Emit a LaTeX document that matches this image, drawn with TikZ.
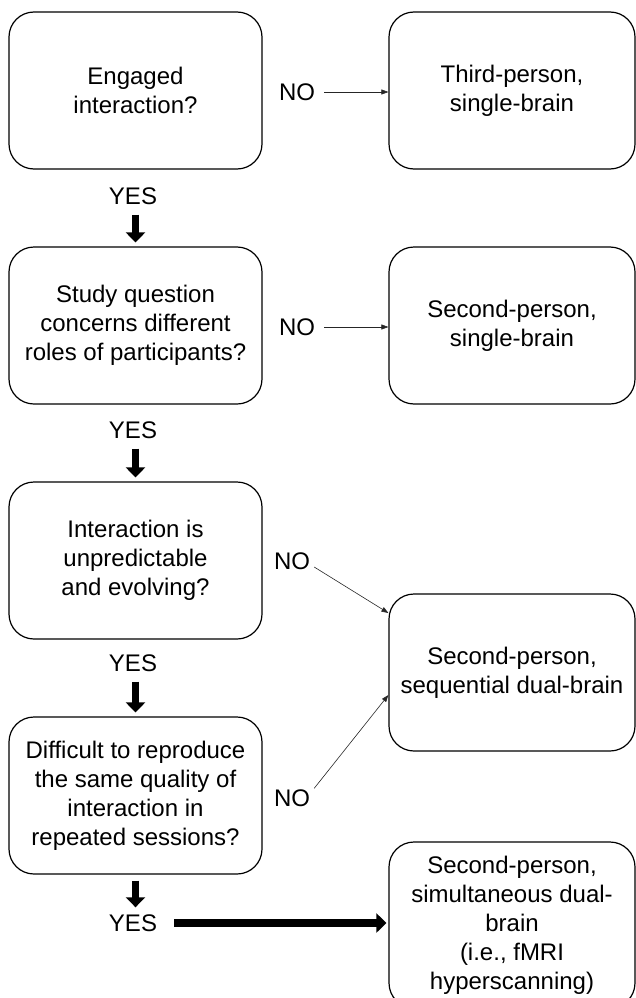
\documentclass[tikz,border=0pt]{standalone}
\usepackage{fontspec}
\setmainfont{Liberation Sans}
\usetikzlibrary{arrows.meta,calc}
\begin{document}
\begin{tikzpicture}[x=1pt,y=-1pt,
  box/.style={draw, line width=1.2pt, rounded corners=25pt, minimum height=157pt,
    align=center, inner sep=0pt, font=\fontsize{24}{29}\selectfont},
  lbox/.style={box, minimum width=253pt},
  rbox/.style={box, minimum width=246pt},
  lab/.style={font=\fontsize{24}{26}\selectfont, inner sep=1pt},
  thinarrow/.style={line width=0.6pt, draw=black!85, -{Triangle[width=5pt,length=7pt]}},
  fatarrow/.style={line width=7.5pt, -{Triangle[width=19pt,length=10pt]}}]
\useasboundingbox (0,0) rectangle (636,998);
\node[lbox] (l1) at (135.5,90.5) {Engaged\\interaction?};
\node[rbox] (r1) at (512,90.5) {Third-person,\\single-brain};
\node[lbox] (l2) at (135.5,325.5) {Study question\\concerns different\\roles of participants?};
\node[rbox] (r2) at (512,325.5) {Second-person,\\single-brain};
\node[lbox] (l3) at (135.5,560.5) {Interaction is\\unpredictable\\and evolving?};
\node[rbox] (r3) at (512,672.5) {Second-person,\\sequential dual-brain};
\node[lbox] (l4) at (135.5,795.5) {Difficult to reproduce\\the same quality of\\interaction in\\repeated sessions?};
\node[rbox, minimum height=166pt] (r4) at (512,925) {Second-person,\\simultaneous dual-\\brain\\(i.e., fMRI\\hyperscanning)};
\node[lab] (no1) at (297,92) {NO};
\node[lab] (no2) at (297,327) {NO};
\node[lab] (no3) at (292,561) {NO};
\node[lab] (no4) at (292,798) {NO};
\node[lab] (yes1) at (133,196) {YES};
\node[lab] (yes2) at (133,430) {YES};
\node[lab] (yes3) at (133,663) {YES};
\node[lab] (yes4) at (133,923) {YES};
\draw[thinarrow, shorten <=8pt] (no1.east) -- (no1.east -| r1.west);
\draw[thinarrow, shorten <=8pt] (no2.east) -- (no2.east -| r2.west);
\draw[thinarrow] ([yshift=-6pt,xshift=3pt]no3.east) -- ([yshift=59.5pt]r3.west);
\draw[thinarrow] ([xshift=3pt]no4.north east) -- ([yshift=-22.5pt]r3.west);
\draw[fatarrow, shorten <=9pt, shorten >=4pt] (yes1.south -| l1.south) -- (l2.north);
\draw[fatarrow, shorten <=9pt, shorten >=4pt] (yes2.south -| l2.south) -- (l3.north);
\draw[fatarrow, shorten <=9pt, shorten >=4pt] (yes3.south -| l3.south) -- (l4.north);
\draw[fatarrow, shorten <=6pt, shorten >=6pt] (l4.south) -- (l4.south |- yes4.north);
\draw[fatarrow, shorten <=16pt, shorten >=2pt] (yes4.east) -- (yes4.east -| r4.west);
\end{tikzpicture}
\end{document}
